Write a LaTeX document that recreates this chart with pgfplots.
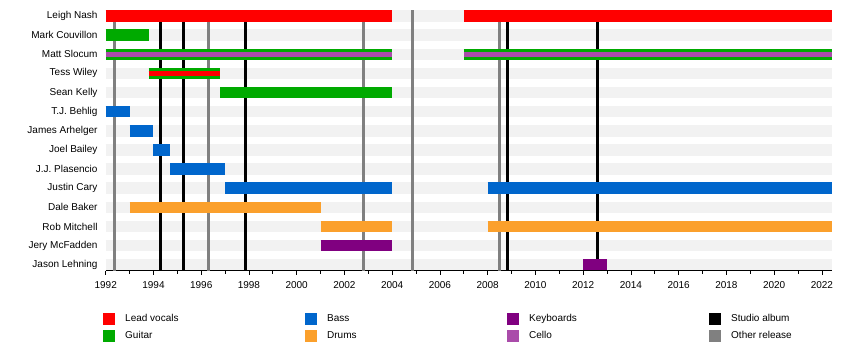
\documentclass[border=0pt]{standalone}
\usepackage{pgfplots}
\pgfplotsset{compat=1.18}
\usepackage{fontspec}
\setmainfont{Liberation Sans}
\definecolor{cvoc}{HTML}{FF0000}
\definecolor{cgui}{HTML}{00AA00}
\definecolor{cbass}{HTML}{0066CC}
\definecolor{cdrum}{HTML}{FBA02C}
\definecolor{ckey}{HTML}{800080}
\definecolor{ccello}{HTML}{AA4CAA}
\definecolor{cgrey}{HTML}{808080}
\definecolor{band}{HTML}{F2F2F2}
\newcommand{\seg}[4]{\addplot[forget plot, draw=#1, line width=11.5bp] coordinates {(#2,#4) (#3,#4)};}
\newcommand{\stripe}[4]{\addplot[forget plot, draw=#1, line width=4.5bp] coordinates {(#2,#4) (#3,#4)};}
\newcommand{\event}[2]{\addplot[forget plot, draw=#1, line width=2.6bp] coordinates {(#2,0.686) (#2,14.314)};}
\pgfplotsset{sqleg/.style={legend image code/.code={\path[fill=#1, draw=none] (0bp,-6bp) rectangle (12bp,6bp); \path[draw=none] (22bp,0bp);}}}
\begin{document}
\fontsize{10bp}{12bp}\selectfont
\begin{tikzpicture}
\useasboundingbox (-105.7bp,-89.3bp) rectangle (744.3bp,270.7bp);
\begin{axis}[
  scale only axis, width=726bp, height=260.7bp,
  xmin=1992, xmax=2022.41, ymin=0.686, ymax=14.314,
  clip=false,
  axis x line*=bottom, axis y line*=left,
  y axis line style={draw=none}, axis line style={-},
  x axis line style={line width=0.8bp},
  xtick={1992,1994,...,2022}, minor xtick={1993,1995,...,2021},
  tick align=outside, major tick length=4bp, minor tick length=3bp,
  xtick style={black, line width=0.8bp},
  xticklabel style={/pgf/number format/1000 sep=, inner sep=0pt, yshift=-7bp},
  /pgf/number format/assume math mode=true,
  ytick={1,...,14},
  yticklabels={Jason Lehning, Jery McFadden, Rob Mitchell, Dale Baker, Justin Cary, J.J. Plasencio, Joel Bailey, James Arhelger, T.J. Behlig, Sean Kelly, Tess Wiley, Matt Slocum, Mark Couvillon, Leigh Nash},
  ytick style={draw=none},
  yticklabel style={inner sep=0pt, xshift=-4bp},
  legend columns=4,
  legend style={at={(axis description cs:0,0)}, anchor=north west, xshift=-2.7bp, yshift=-41.6bp,
    draw=none, fill=none, inner sep=0pt, column sep=0pt, row sep=5bp,
    nodes={inner sep=0pt, anchor=west}},
  legend cell align=left,
]
\pgfplotsinvokeforeach{1,...,14}{\addplot[forget plot, draw=band, line width=11.5bp] coordinates {(1992,#1) (2022.41,#1)};}
\event{cgrey}{1992.36}
\event{cgrey}{1996.30}
\event{cgrey}{2002.79}
\event{cgrey}{2004.85}
\event{cgrey}{2008.49}
\event{black}{1994.29}
\event{black}{1995.25}
\event{black}{1997.85}
\event{black}{2008.83}
\event{black}{2012.60}
% Leigh Nash
\seg{cvoc}{1992}{2004}{14}
\seg{cvoc}{2007}{2022.41}{14}
% Mark Couvillon
\seg{cgui}{1992}{1993.8}{13}
% Matt Slocum
\seg{cgui}{1992}{2004}{12}
\seg{cgui}{2007}{2022.41}{12}
\stripe{ccello}{1992}{2004}{12}
\stripe{ccello}{2007}{2022.41}{12}
% Tess Wiley
\seg{cgui}{1993.8}{1996.8}{11}
\stripe{cvoc}{1993.8}{1996.8}{11}
% Sean Kelly
\seg{cgui}{1996.8}{2004}{10}
% T.J. Behlig
\seg{cbass}{1992}{1993}{9}
% James Arhelger
\seg{cbass}{1993}{1994}{8}
% Joel Bailey
\seg{cbass}{1994}{1994.7}{7}
% J.J. Plasencio
\seg{cbass}{1994.7}{1997}{6}
% Justin Cary
\seg{cbass}{1997}{2004}{5}
\seg{cbass}{2008}{2022.41}{5}
% Dale Baker
\seg{cdrum}{1993}{2001}{4}
% Rob Mitchell
\seg{cdrum}{2001}{2004}{3}
\seg{cdrum}{2008}{2022.41}{3}
% Jery McFadden
\seg{ckey}{2001}{2004}{2}
% Jason Lehning
\seg{ckey}{2012}{2013}{1}
% legend
\addlegendimage{sqleg=cvoc}\addlegendentry{\makebox[180bp][l]{Lead vocals}}
\addlegendimage{sqleg=cbass}\addlegendentry{\makebox[180bp][l]{Bass}}
\addlegendimage{sqleg=ckey}\addlegendentry{\makebox[180bp][l]{Keyboards}}
\addlegendimage{sqleg=black}\addlegendentry{\makebox[180bp][l]{Studio album}}
\addlegendimage{sqleg=cgui}\addlegendentry{\makebox[180bp][l]{Guitar}}
\addlegendimage{sqleg=cdrum}\addlegendentry{\makebox[180bp][l]{Drums}}
\addlegendimage{sqleg=ccello}\addlegendentry{\makebox[180bp][l]{Cello}}
\addlegendimage{sqleg=cgrey}\addlegendentry{\makebox[180bp][l]{Other release}}
\end{axis}
\end{tikzpicture}
\end{document}
